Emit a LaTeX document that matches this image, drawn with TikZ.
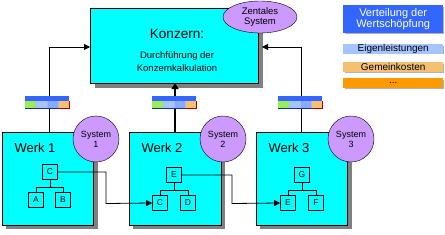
\documentclass[tikz,border=0pt]{standalone}
\usepackage{fontspec}
\setmainfont{Liberation Sans}
\usetikzlibrary{arrows.meta,shapes.geometric}
\definecolor{cyanbox}{HTML}{00FFFF}
\definecolor{shadowgray}{HTML}{808080}
\definecolor{sysviolet}{HTML}{CC99FF}
\definecolor{legblue}{HTML}{3366FF}
\definecolor{leglight}{HTML}{A6C4FF}
\definecolor{legbeige}{HTML}{F5C070}
\definecolor{legorange}{HTML}{FF9900}
\definecolor{icgreen}{HTML}{99EE55}
\definecolor{iclight}{HTML}{A6C4FF}
\definecolor{icmid}{HTML}{88AAFF}
\definecolor{icdark}{HTML}{1133AA}
\tikzset{
  bigbox/.style={draw=black, line width=1pt, fill=cyanbox, inner sep=0pt},
  sysnode/.style={draw=black, fill=sysviolet, circle, minimum size=46pt, inner sep=0pt, align=center, font=\fontsize{9}{10}\selectfont},
  leaf/.style={draw=black, line width=0.8pt, minimum size=15pt, inner sep=0pt, font=\fontsize{8.5}{9}\selectfont},
  legbox/.style={inner sep=0pt, minimum width=100pt, anchor=north west, font=\fontsize{10}{10}\selectfont},
  conn/.style={line width=0.8pt},
  arr/.style={line width=0.8pt, -{Triangle[length=6pt,width=6pt]}},
  tree/.style={line width=0.8pt},
}
\newcommand{\icon}[2]{%
  \fill[legblue] (#1,#2) rectangle ++(44,5);
  \draw[icdark, line width=0.6pt] (#1,#2+5) -- ++(44,0);
  \fill[icgreen] (#1,#2+5) rectangle ++(11,7);
  \fill[iclight] (#1+11,#2+5) rectangle ++(11,7);
  \fill[icmid] (#1+22,#2+5) rectangle ++(11,7);
  \fill[legbeige] (#1+33,#2+5) rectangle ++(11,7);
  \draw[icdark, line width=0.6pt] (#1,#2+12) -- ++(33,0);
  \draw[red!70!black, line width=0.6pt] (#1+33,#2+12) -- ++(11,0) -- ++(0,-7);
  \draw[white!70!blue, line width=0.4pt] (#1+11,#2+5) -- ++(0,7) (#1+22,#2+5) -- ++(0,7) (#1+33,#2+5) -- ++(0,7);
}
\begin{document}
\begin{tikzpicture}[x=1pt,y=-1pt]
\useasboundingbox (0,0) rectangle (445,234);
% Konzern
\fill[shadowgray] (95,13) rectangle (263,88);
\node[bigbox, minimum width=168pt, minimum height=75pt, anchor=north west] (konzern) at (90,8) {};
\node[font=\fontsize{13.5}{15}\selectfont] (ktitle) at (177,34) {Konzern:};
\node[font=\fontsize{9.5}{13}\selectfont, align=center] (ktext) at (177,62) {Durchführung der\\Konzernkalkulation};
\node[draw=black, fill=sysviolet, ellipse, minimum width=74pt, minimum height=32pt, inner sep=0pt, align=center, font=\fontsize{9.5}{10.5}\selectfont] (zentral) at (260,17) {Zentales\\System};
% Legend
\fill[shadowgray!60] (345,7) rectangle (444,34);
\node[legbox, fill=legblue, minimum height=28pt, text=white, align=center, font=\fontsize{11}{11}\selectfont] (lv) at (343,5) {Verteilung der\\Wertschöpfung};
\fill[shadowgray!60] (345,46) rectangle (444,54);
\node[legbox, fill=leglight, minimum height=9pt] (le) at (343,44) {Eigenleistungen};
\fill[shadowgray!60] (345,64) rectangle (444,73);
\node[legbox, fill=legbeige, minimum height=9.5pt] (lg) at (343,62) {Gemeinkosten};
\fill[shadowgray!60] (345,80) rectangle (444,89);
\node[legbox, fill=legorange, minimum height=9.5pt] (ld) at (343,78) {...};
% Werke shadows
\fill[shadowgray] (6,136) rectangle (98,229);
\fill[shadowgray] (133,136) rectangle (225,229);
\fill[shadowgray] (260,136) rectangle (352,229);
\node[bigbox, minimum width=91pt, minimum height=93pt, anchor=north west] (w1) at (2,132) {};
\node[bigbox, minimum width=92pt, minimum height=93pt, anchor=north west] (w2) at (129,132) {};
\node[bigbox, minimum width=91pt, minimum height=93pt, anchor=north west] (w3) at (256,132) {};
\node[font=\fontsize{13}{15}\selectfont, anchor=west] (w1l) at (11,148) {Werk 1};
\node[font=\fontsize{13}{15}\selectfont, anchor=west] (w2l) at (138,148) {Werk 2};
\node[font=\fontsize{13}{15}\selectfont, anchor=west] (w3l) at (265,148) {Werk 3};
\node[sysnode] (s1) at (96,139) {System\\1};
\node[sysnode] (s2) at (223,139) {System\\2};
\node[sysnode] (s3) at (351,139) {System\\3};
% leaves
\node[leaf] (c1) at (50,172) {C};
\node[leaf] (a1) at (36,200) {A};
\node[leaf] (b1) at (63,200) {B};
\node[leaf] (e2) at (174,175) {E};
\node[leaf] (c2) at (160,203) {C};
\node[leaf] (d2) at (188,203) {D};
\node[leaf] (g3) at (302,175) {G};
\node[leaf] (e3) at (288,203) {E};
\node[leaf] (f3) at (316,203) {F};
\draw[tree] (c1.south) -- ++(0,7) coordinate (t1);
\draw[tree] (a1.north) |- (t1) -| (b1.north);
\draw[tree] (e2.south) -- ++(0,7) coordinate (t2);
\draw[tree] (c2.north) |- (t2) -| (d2.north);
\draw[tree] (g3.south) -- ++(0,7) coordinate (t3);
\draw[tree] (e3.north) |- (t3) -| (f3.north);
\draw[arr] (c1.east) -| (106,203.5) -- (c2.west);
\draw[arr] (e2.east) -| (232,203.5) -- (e3.west);
% up links
\coordinate (k1) at (90,47);
\coordinate (k2) at (175,83);
\coordinate (k3) at (262,47);
\draw[arr] (49,132) -- (49,47) -- (k1);
\draw[arr] (301,132) -- (301,47) -- (k3);
\draw[line width=1.6pt, -{Triangle[length=6pt,width=7pt]}] (175,132) -- (k2);
% icons
\icon{25}{96}
\icon{152}{96}
\icon{278}{96}
\end{tikzpicture}
\end{document}
